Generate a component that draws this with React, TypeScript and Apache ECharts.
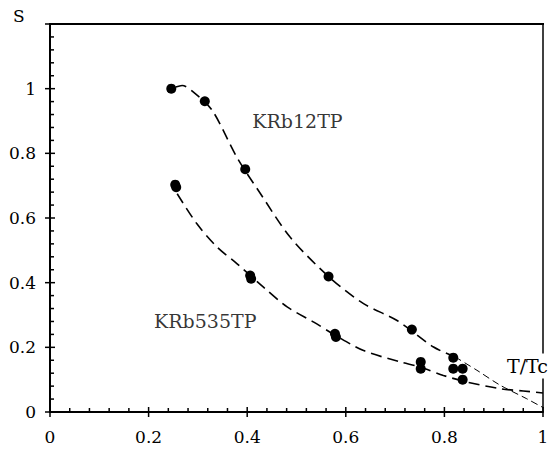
import React, { useEffect, useRef } from "react";
import * as echarts from "echarts";

const xTicks = [0, 0.2, 0.4, 0.6, 0.8, 1];
const yTicks = [0, 0.2, 0.4, 0.6, 0.8, 1, 1.2];
const xMinorTicks = [
  0.04, 0.08, 0.12, 0.16, 0.24, 0.28, 0.32, 0.36, 0.44, 0.48,
  0.52, 0.56, 0.64, 0.68, 0.72, 0.76, 0.84, 0.88, 0.92, 0.96,
];
const yMinorTicks = [
  0.04, 0.08, 0.12, 0.16, 0.24, 0.28, 0.32, 0.36, 0.44, 0.48,
  0.52, 0.56, 0.64, 0.68, 0.72, 0.76, 0.84, 0.88, 0.92, 0.96,
  1.04, 1.08, 1.12, 1.16,
];
const xLabelTicks = [0, 0.2, 0.4, 0.6, 0.8, 1];
const yLabelTicks = [0, 0.2, 0.4, 0.6, 0.8, 1];

const krb12Points: [number, number][] = [
  [0.246, 1.0], [0.314, 0.961], [0.396, 0.751], [0.565, 0.419],
  [0.734, 0.255], [0.818, 0.168], [0.837, 0.134],
];
const krb535Points: [number, number][] = [
  [0.254, 0.703], [0.256, 0.695], [0.406, 0.422], [0.408, 0.412],
  [0.578, 0.242], [0.58, 0.232], [0.752, 0.155], [0.752, 0.134],
  [0.818, 0.134], [0.837, 0.1],
];

const krb12Curve: [number, number][] = [
  [0.255, 1.005], [0.268, 1.01], [0.291, 0.989], [0.329, 0.933],
  [0.379, 0.788], [0.427, 0.675], [0.487, 0.541], [0.565, 0.419],
  [0.636, 0.335], [0.704, 0.283], [0.778, 0.201], [0.822, 0.17],
];
const krb12Tail: [number, number][] = [
  [0.822, 0.17], [0.866, 0.129], [0.913, 0.083], [0.967, 0.041], [1.0, 0.014], [1.02, 0.0],
];
const krb535Curve: [number, number][] = [
  [0.258, 0.675], [0.298, 0.582], [0.339, 0.51], [0.379, 0.459],
  [0.433, 0.386], [0.481, 0.325], [0.535, 0.278], [0.579, 0.237],
  [0.636, 0.19], [0.71, 0.155], [0.751, 0.139], [0.798, 0.113], [0.845, 0.093],
  [0.913, 0.072], [0.96, 0.065], [1.0, 0.059],
];

const seriesLabels = [
  { name: "KRb12TP", x: 0.502, y: 0.9 },
  { name: "KRb535TP", x: 0.315, y: 0.28 },
];

const FONT = "DejaVu Serif";
const TICK_FS = 17;
const NOTE_FS = 19;

const W = 554;
const H = 455;

export default function App() {
  const ref = useRef<HTMLDivElement>(null);
  useEffect(() => {
    const chart = echarts.init(ref.current!, null, { renderer: "svg" });
    const fmt = (ticks: number[]) => (v: number) =>
      ticks.some((t) => Math.abs(t - v) < 1e-9) ? String(+v.toFixed(1)) : "";

    // x ticks: [value, yAtAxis, isMajor]
    const xTickData = [
      ...xTicks.map((v) => [v, 0, 1]),
      ...xMinorTicks.map((v) => [v, 0, 0]),
    ];
    // y ticks: [xAtAxis, value, isMajor]
    const yTickData = [
      ...yTicks.map((v) => [0, v, 1]),
      ...yMinorTicks.map((v) => [0, v, 0]),
    ];
    const tickStyle = { stroke: "#000", lineWidth: 1.5 };

    chart.setOption({
      animation: false,
      grid: { left: 50, right: 11, top: 24, bottom: 43 },
      xAxis: {
        type: "value", min: 0, max: 1, interval: 0.2,
        splitLine: { show: false },
        axisLine: { show: true, onZero: false, lineStyle: { color: "#000", width: 2 } },
        axisTick: { show: false },
        axisLabel: { color: "#000", fontFamily: FONT, fontSize: TICK_FS, margin: 16, formatter: fmt(xLabelTicks) },
      },
      yAxis: {
        type: "value", min: 0, max: 1.2, interval: 0.2,
        splitLine: { show: false },
        axisLine: { show: true, onZero: false, lineStyle: { color: "#000", width: 2 } },
        axisTick: { show: false },
        axisLabel: { color: "#000", fontFamily: FONT, fontSize: TICK_FS, margin: 14, formatter: fmt(yLabelTicks) },
      },
      graphic: [
        {
          type: "text", x: 13, y: 16,
          style: { text: "S", fill: "#000", font: `${TICK_FS}px '${FONT}'`, verticalAlign: "middle" },
        },
        {
          type: "text", x: 505, y: 366, z: 100,
          style: {
            text: "T/Tc", fill: "#000", font: `${NOTE_FS}px '${FONT}'`, verticalAlign: "middle",
            backgroundColor: "#fff", padding: [3, 0, 3, 2],
          },
        },
      ],
      series: [
        {
          // top and right edges of the frame, from the axis extents
          type: "custom", silent: true, clip: false, z: 3,
          data: [[0, 0, 1, 1.2]],
          encode: { x: [0, 2], y: [1, 3] },
          renderItem: (_p: any, api: any) => {
            const tl = api.coord([api.value(0), api.value(3)]);
            const tr = api.coord([api.value(2), api.value(3)]);
            const br = api.coord([api.value(2), api.value(1)]);
            return {
              type: "group",
              children: [
                { type: "line", shape: { x1: tl[0] - 1, y1: tl[1], x2: tr[0] + 1, y2: tr[1] }, style: { stroke: "#000", lineWidth: 2 } },
                { type: "line", shape: { x1: tr[0], y1: tr[1], x2: br[0], y2: br[1] }, style: { stroke: "#000", lineWidth: 1.5 } },
              ],
            };
          },
        },
        {
          type: "custom", silent: true, clip: false, z: 3,
          data: xTickData,
          encode: { x: 0, y: 1 },
          renderItem: (_p: any, api: any) => {
            const p = api.coord([api.value(0), api.value(1)]);
            const major = api.value(2) === 1;
            return {
              type: "line",
              shape: { x1: p[0], y1: p[1] + (major ? 5 : 0), x2: p[0], y2: p[1] - (major ? 5 : 4) },
              style: tickStyle,
            };
          },
        },
        {
          type: "custom", silent: true, clip: false, z: 3,
          data: yTickData,
          encode: { x: 0, y: 1 },
          renderItem: (_p: any, api: any) => {
            const p = api.coord([api.value(0), api.value(1)]);
            const major = api.value(2) === 1;
            return {
              type: "line",
              shape: { x1: p[0] - (major ? 5 : 0), y1: p[1], x2: p[0] + (major ? 5 : 4), y2: p[1] },
              style: tickStyle,
            };
          },
        },
        {
          type: "line", data: krb12Curve, smooth: 0.3, symbol: "none", clip: false,
          lineStyle: { color: "#000", width: 1.6, type: [11, 6] },
        },
        {
          type: "line", data: krb12Tail, smooth: 0.3, symbol: "none", clip: false,
          lineStyle: { color: "#000", width: 1, type: [7, 4] },
        },
        {
          type: "line", data: krb535Curve, smooth: 0.3, symbol: "none", clip: false,
          lineStyle: { color: "#000", width: 1.6, type: [11, 6] },
        },
        {
          type: "scatter", data: krb12Points, symbol: "circle", symbolSize: 10,
          itemStyle: { color: "#000", opacity: 1 }, z: 5,
        },
        {
          type: "scatter", data: krb535Points, symbol: "circle", symbolSize: 10,
          itemStyle: { color: "#000", opacity: 1 }, z: 5,
        },
        {
          type: "scatter",
          data: seriesLabels.map((l) => ({ value: [l.x, l.y], name: l.name })),
          symbol: "circle", symbolSize: 2,
          itemStyle: { color: "rgba(0,0,0,0)" },
          label: {
            show: true, position: "inside", formatter: "{b}",
            color: "#000", fontFamily: FONT, fontSize: NOTE_FS,
          },
        },
      ],
    });
    return () => chart.dispose();
  }, []);
  return (
    <div
      ref={ref}
      style={{ position: "absolute", left: 0, top: 0, width: W, height: H }}
    />
  );
}
